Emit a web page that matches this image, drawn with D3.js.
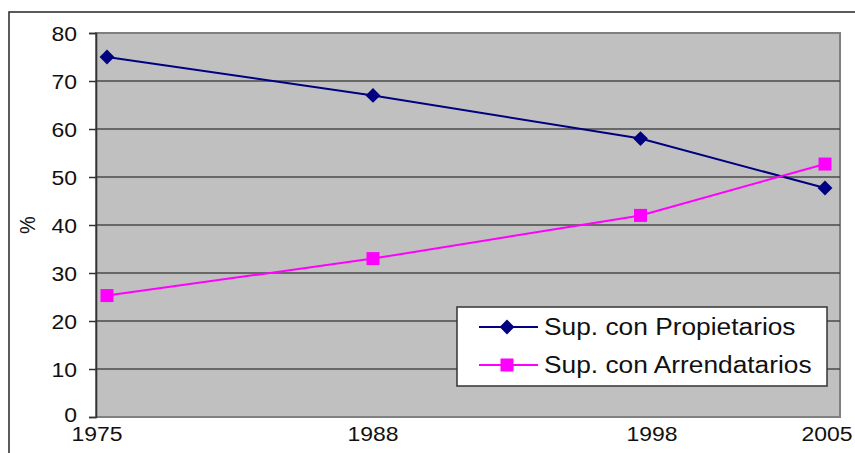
<!DOCTYPE html>
<html>
<head>
<meta charset="utf-8">
<script src="https://cdn.jsdelivr.net/npm/d3@7"></script>
<style>
  body { margin: 0; background: #ffffff; }
  svg text { font-family: "Liberation Sans", Arial, sans-serif; fill: #111; }
</style>
</head>
<body>
<div id="chart"></div>
<script>
const years = ["1975", "1988", "1998", "2005"];
const propietarios = [75, 67, 58, 47.7];
const arrendatarios = [25.3, 33, 42, 52.7];
const y_ticks = [0, 10, 20, 30, 40, 50, 60, 70, 80];
const series_names = ["Sup. con Propietarios", "Sup. con Arrendatarios"];

const width = 855, height = 453;
const plot = {left: 96, top: 33, right: 840, bottom: 417};
const stretch = 1.12;   // text in the original is a bit wide

let svg = d3.select("#chart").append("svg")
    .attr("width", width)
    .attr("height", height);

// outer frame (cut off at right and bottom)
svg.append("rect")
    .attr("x", 9).attr("y", 12)
    .attr("width", 900).attr("height", 500)
    .attr("fill", "none")
    .attr("stroke", "#333")
    .attr("stroke-width", 1.6);

// x positions of the points are not evenly spaced in the original
let xScale = d3.scaleOrdinal()
    .domain(years)
    .range([11, 277, 544.5, 729].map(d => plot.left + d));
let xLabelScale = d3.scaleOrdinal()
    .domain(years)
    .range([1, 277, 556, 731].map(d => plot.left + d));

let yScale = d3.scaleLinear()
    .domain([0, 80])
    .range([plot.bottom, plot.top]);

// plot area
svg.append("rect")
    .attr("x", plot.left).attr("y", plot.top)
    .attr("width", plot.right - plot.left)
    .attr("height", plot.bottom - plot.top)
    .attr("fill", "#c0c0c0")
    .attr("stroke", "#808080")
    .attr("stroke-width", 2);

// gridlines
svg.append("g")
    .selectAll("line")
    .data(y_ticks.filter(d => d > 0 && d < 80))
    .enter()
    .append("line")
    .attr("x1", plot.left).attr("x2", plot.right)
    .attr("y1", d => yScale(d)).attr("y2", d => yScale(d))
    .attr("stroke", "#4a4a4a")
    .attr("stroke-width", 1.5);

// y axis
let yAxis = svg.append("g")
    .attr("transform", "translate(" + plot.left + ",0)")
    .call(d3.axisLeft(yScale).tickValues(y_ticks).tickSize(7).tickPadding(0));
yAxis.select(".domain").attr("stroke", "#333").attr("stroke-width", 1.6);
yAxis.selectAll(".tick line").attr("stroke", "#333").attr("stroke-width", 1.5);
yAxis.selectAll(".tick text").remove();

svg.append("g")
    .selectAll("text")
    .data(y_ticks)
    .enter()
    .append("text")
    .attr("transform", d => "translate(77," + (yScale(d) + (d == 0 ? 4.5 : 7.5)) + ") scale(" + stretch + ",1)")
    .attr("text-anchor", "end")
    .attr("font-size", "20.5px")
    .text(d => d);

// x labels
svg.append("g")
    .selectAll("text")
    .data(years)
    .enter()
    .append("text")
    .attr("transform", d => "translate(" + xLabelScale(d) + ",441) scale(" + stretch + ",1)")
    .attr("text-anchor", "middle")
    .attr("font-size", "20.5px")
    .text(d => d);

// y title
svg.append("text")
    .attr("transform", "translate(35,225) rotate(-90) scale(1," + stretch + ")")
    .attr("text-anchor", "middle")
    .attr("font-size", "20px")
    .text("%");

// lines
let line = d3.line()
    .x((d, i) => xScale(years[i]))
    .y(d => yScale(d));

svg.append("path")
    .datum(propietarios)
    .attr("d", line)
    .attr("fill", "none")
    .attr("stroke", "#000080")
    .attr("stroke-width", 2);

svg.append("path")
    .datum(arrendatarios)
    .attr("d", line)
    .attr("fill", "none")
    .attr("stroke", "#ff00ff")
    .attr("stroke-width", 2);

let diamond = d3.symbol().type(d3.symbolSquare).size(110);

svg.append("g")
    .selectAll("path")
    .data(propietarios)
    .enter()
    .append("path")
    .attr("d", diamond)
    .attr("transform", (d, i) => "translate(" + xScale(years[i]) + "," + yScale(d) + ") rotate(45)")
    .attr("fill", "#000080");

svg.append("g")
    .selectAll("rect")
    .data(arrendatarios)
    .enter()
    .append("rect")
    .attr("x", (d, i) => xScale(years[i]) - 6.5)
    .attr("y", d => yScale(d) - 6.5)
    .attr("width", 13)
    .attr("height", 13)
    .attr("fill", "#ff00ff");

// legend
let legend = svg.append("g");
legend.append("rect")
    .attr("x", 457).attr("y", 307)
    .attr("width", 370).attr("height", 79)
    .attr("fill", "#ffffff")
    .attr("stroke", "#333")
    .attr("stroke-width", 1.5);

let legend_colors = ["#000080", "#ff00ff"];
let legend_rows = [327, 365];

for (let i = 0; i < series_names.length; i++) {
    legend.append("line")
        .attr("x1", 479).attr("x2", 538)
        .attr("y1", legend_rows[i]).attr("y2", legend_rows[i])
        .attr("stroke", legend_colors[i])
        .attr("stroke-width", 2);
    if (i == 0) {
        legend.append("path")
            .attr("d", diamond)
            .attr("transform", "translate(507," + legend_rows[i] + ") rotate(45)")
            .attr("fill", legend_colors[i]);
    }
    else {
        legend.append("rect")
            .attr("x", 507 - 6.5).attr("y", legend_rows[i] - 6.5)
            .attr("width", 13).attr("height", 13)
            .attr("fill", legend_colors[i]);
    }
    legend.append("text")
        .attr("transform", "translate(544," + (legend_rows[i] + 8) + ") scale(" + stretch + ",1)")
        .attr("font-size", "23.5px")
        .text(series_names[i]);
}
</script>
</body>
</html>
